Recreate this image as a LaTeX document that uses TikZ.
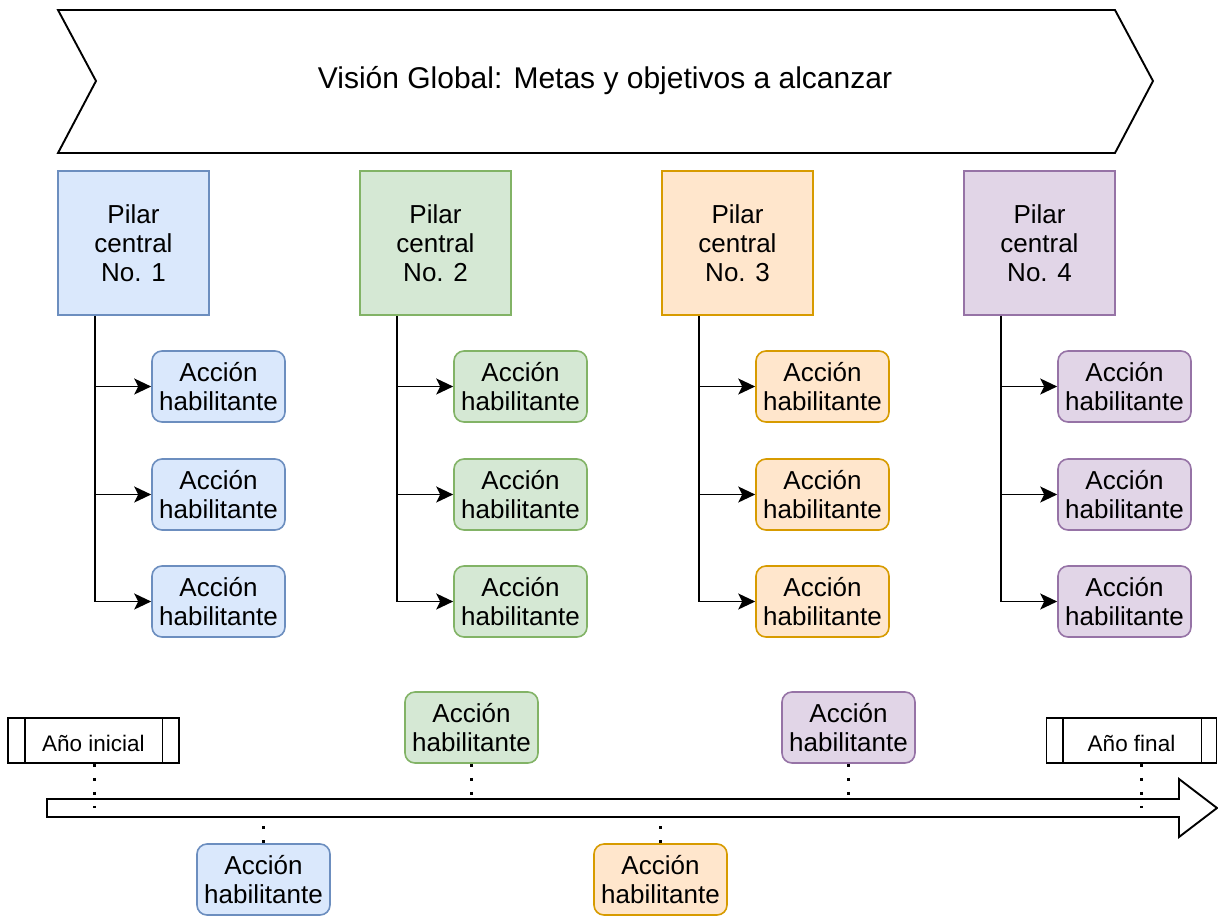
\documentclass[tikz,border=0pt]{standalone}
\usepackage{fontspec}
\setmainfont{Liberation Sans}
\usetikzlibrary{arrows.meta}

\definecolor{blueF}{HTML}{DAE8FC}\definecolor{blueD}{HTML}{6C8EBF}
\definecolor{greenF}{HTML}{D5E8D4}\definecolor{greenD}{HTML}{82B366}
\definecolor{orangeF}{HTML}{FFE6CC}\definecolor{orangeD}{HTML}{D79B00}
\definecolor{purpleF}{HTML}{E1D5E7}\definecolor{purpleD}{HTML}{9673A6}

\tikzset{
  theme blue/.style={fill=blueF, draw=blueD},
  theme green/.style={fill=greenF, draw=greenD},
  theme orange/.style={fill=orangeF, draw=orangeD},
  theme purple/.style={fill=purpleF, draw=purpleD},
  boxtext/.style={font=\fontsize{26}{29}\selectfont,
    execute at begin node={\rule{0pt}{27pt}}},
  pillar/.style={draw, line width=1.6pt, minimum width=151pt, minimum height=144pt,
    inner sep=0pt, align=center, boxtext},
  action/.style={draw, line width=1.6pt, rounded corners=10pt, minimum width=133pt,
    minimum height=71pt, inner sep=0pt, align=center, boxtext},
  yearbox/.style={draw=black, line width=1.6pt, fill=white, minimum height=45pt,
    inner sep=0pt, text height=21pt, text depth=0pt, font=\fontsize{22.5}{26}\selectfont},
  link/.style={line width=1.9pt, -{Stealth[length=17pt,width=16pt,inset=4pt]}},
  tick/.style={line width=3pt, dash pattern=on 3pt off 11pt},
  outline/.style={line width=1.9pt, draw=black, fill=white, line join=miter},
}

\begin{document}
\begin{tikzpicture}[x=1pt, y=-1pt]
  \useasboundingbox (0,0) rectangle (1218,916);

  % banner with the overall vision
  \draw[outline] (58,10) -- (1115,10) -- (1153,81) -- (1115,153) -- (58,153) -- (96,81) -- cycle;
  \node[font=\fontsize{30}{34}\selectfont] (vision) at (605,81) {Visión Global: Metas y objetivos a alcanzar};

  % four pillars, each with three enabling actions
  \foreach \i/\c in {1/blue, 2/green, 3/orange, 4/purple} {
    \pgfmathsetmacro\dx{(\i-1)*302}
    \node[pillar, theme \c] (p\i) at (133.5+\dx, 243) {Pilar\\central\\No. \i};
    \foreach \j/\yy in {1/386.5, 2/494.5, 3/601.5} {
      \node[action, theme \c] (a\i\j) at (218.5+\dx, \yy) {Acción\\habilitante};
    }
    \coordinate (s\i) at ([xshift=37.75pt]p\i.south west);
    \draw[link] (s\i) |- (a\i3.west);
    \draw[link] (s\i |- a\i1.west) -- (a\i1.west);
    \draw[link] (s\i |- a\i2.west) -- (a\i2.west);
  }

  % timeline arrow
  \draw[outline] (47,799) -- (1179,799) -- (1179,779) -- (1217,808) -- (1179,837)
    -- (1179,817) -- (47,817) -- cycle;

  % start and end years
  \node[yearbox, minimum width=171pt] (yi) at (93.5,740.5) {Año inicial};
  \node[yearbox, minimum width=170pt] (yf) at (1131.5,740.5) {Año final};
  \draw[line width=1.6pt] ([xshift=17.5pt]yi.north west) -- ([xshift=17.5pt]yi.south west);
  \draw[line width=1.6pt] ([xshift=-17.5pt]yi.north east) -- ([xshift=-17.5pt]yi.south east);
  \draw[line width=1.6pt] ([xshift=17.5pt]yf.north west) -- ([xshift=17.5pt]yf.south west);
  \draw[line width=1.6pt] ([xshift=-16pt]yf.north east) -- ([xshift=-16pt]yf.south east);

  % actions placed along the timeline
  \node[action, theme green] (tg) at (471.5,727.5) {Acción\\habilitante};
  \node[action, theme purple] (tp) at (848.5,727.5) {Acción\\habilitante};
  \node[action, theme blue] (tb) at (263.5,879.5) {Acción\\habilitante};
  \node[action, theme orange] (to) at (660.5,879.5) {Acción\\habilitante};

  % marks on the timeline
  \coordinate (m0) at (94,808);
  \coordinate (m5) at (1141,808);
  \coordinate (mg) at (471,799);
  \coordinate (mp) at (848,799);
  \coordinate (mb) at (263,817);
  \coordinate (mo) at (660,817);

  \draw[tick] (yi.south -| m0) -- (m0);
  \draw[tick] (yf.south -| m5) -- (m5);
  \draw[tick] (tg.south -| mg) -- (mg);
  \draw[tick] (tp.south -| mp) -- (mp);
  \draw[tick] (tb.north -| mb) -- (mb);
  \draw[tick] (to.north -| mo) -- (mo);
\end{tikzpicture}
\end{document}
